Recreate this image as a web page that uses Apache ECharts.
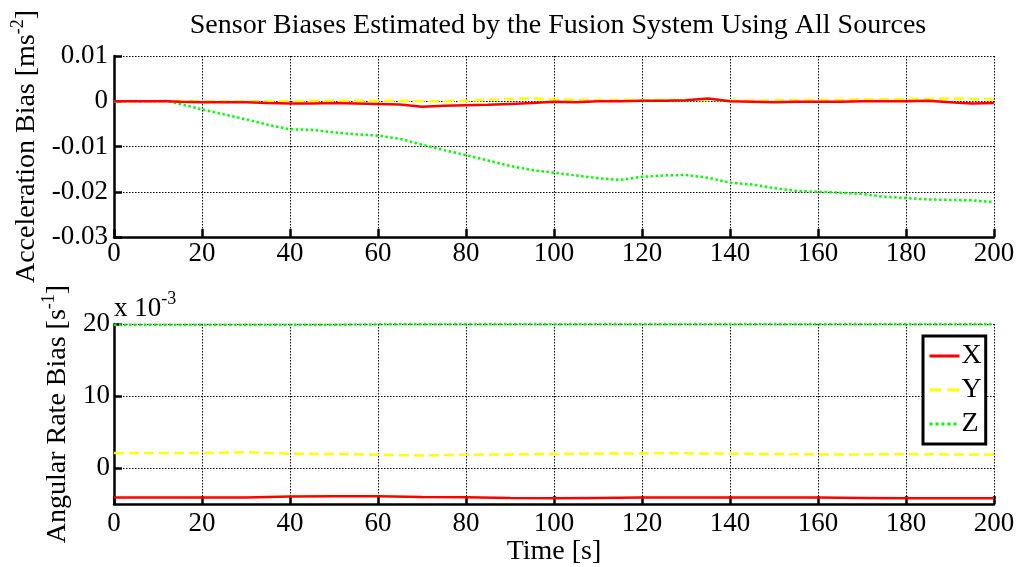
<!DOCTYPE html>
<html>
<head>
<meta charset="utf-8">
<script src="https://cdn.jsdelivr.net/npm/echarts@6/dist/echarts.min.js"></script>
<style>html,body{margin:0;padding:0;background:#fff}#c{width:1024px;height:567px}</style>
</head>
<body>
<div id="c"></div>
<script>
// ---- data ----
const accTime = [0,5,10,12,15,20,25,30,35,40,45,50,55,60,65,70,75,80,85,90,95,100,105,110,115,120,125,130,135,140,145,150,155,160,165,170,175,180,185,190,195,200];
const accX = [0,0,0,0,-0.0001,-0.0002,-0.0002,-0.0002,-0.0004,-0.0005,-0.0005,-0.0004,-0.0005,-0.0006,-0.0007,-0.0012,-0.0010,-0.0009,-0.0008,-0.0006,-0.0004,-0.0001,-0.0002,0,0,0.0001,0.0001,0.0002,0.0006,0,-0.0001,-0.0002,-0.0001,-0.0001,-0.0001,0,0,0,0.0001,-0.0002,-0.0005,-0.0004];
const accY = [0,0,0,0,0,0,0,0,0,0,0.0001,0.0001,0.0001,0.0001,0.0001,0,0,0.0001,0.0003,0.0005,0.0006,0.0004,0.0003,0.0003,0.0003,0.0003,0.0003,0.0003,0.0003,0.0002,0.0001,0.0002,0.0002,0.0003,0.0003,0.0004,0.0004,0.0005,0.0005,0.0006,0.0005,0.0004];
const accZ = [0,0,0,0.0001,-0.0006,-0.0018,-0.0029,-0.0040,-0.0052,-0.0062,-0.0063,-0.0069,-0.0073,-0.0076,-0.0083,-0.0096,-0.0108,-0.0119,-0.0131,-0.0143,-0.0152,-0.0158,-0.0164,-0.0170,-0.0174,-0.0167,-0.0164,-0.0163,-0.0169,-0.0180,-0.0184,-0.0192,-0.0198,-0.0200,-0.0202,-0.0205,-0.0211,-0.0214,-0.0217,-0.0218,-0.0219,-0.0223];

const rateTime = [0,10,20,30,40,50,60,70,80,90,100,110,120,130,140,150,160,170,180,190,200];
// angular rate bias in units of 10^-3 s^-1
const rateX = [-4.1,-4.1,-4.1,-4.1,-3.95,-3.9,-3.9,-4.0,-4.05,-4.15,-4.2,-4.15,-4.1,-4.1,-4.1,-4.1,-4.1,-4.15,-4.2,-4.2,-4.2];
const rateY = [2.1,2.1,2.1,2.2,2.0,1.95,1.85,1.75,1.85,1.9,1.95,2.0,2.05,2.05,2.0,1.95,1.9,1.9,1.95,1.9,1.9];
const rateZ = [19.9,19.9,19.9,19.9,19.9,19.9,19.95,19.95,19.95,19.95,19.95,19.95,19.95,19.95,19.95,19.95,19.95,19.95,19.95,19.95,19.95];

const seriesNames = ['X','Y','Z'];
const rateTicks = [0,10,20];

// ---- chart ----
const FONT = '"Liberation Serif", "Times New Roman", serif';
const colors = ['#ff0000','#ffff00','#00ff00'];
const lineTypes = ['solid','dashed','dotted'];
const zip = (t, v) => t.map((x, i) => [x, v[i]]);

const axisCommon = () => ({
  axisLine: {show: true, onZero: false, lineStyle: {color: '#000', width: 2.5}},
  axisTick: {show: true, inside: true, length: 8, lineStyle: {color: '#000', width: 2.5}},
  splitLine: {show: true, lineStyle: {color: '#000', width: 1, type: [1.5, 1.5]}}
});

const xAxisBase = (idx, margin) => Object.assign(axisCommon(), {
  type: 'value', gridIndex: idx, min: 0, max: 200, interval: 20,
  axisLabel: {color: '#000', fontFamily: FONT, fontSize: 27, margin: margin}
});

const chart = echarts.init(document.getElementById('c'), null, {renderer: 'canvas'});

const mkSeries = (i, xi, t, v) => ({
  name: seriesNames[i], type: 'line', xAxisIndex: xi, yAxisIndex: xi,
  data: zip(t, v), showSymbol: false, symbol: 'none',
  lineStyle: {color: colors[i], width: 2.5, type: lineTypes[i]},
  itemStyle: {color: colors[i]}, z: 3 + (2 - i)
});

const nameRich = {
  n: {fontFamily: FONT, fontSize: 28, color: '#000', verticalAlign: 'bottom'},
  sup: {fontFamily: FONT, fontSize: 18, color: '#000', verticalAlign: 'top', padding: [0, 0, 14, 0]}
};

chart.setOption({
  animation: false,
  title: {
    text: 'Sensor Biases Estimated by the Fusion System Using All Sources',
    left: 553, top: 7, textAlign: 'center',
    textStyle: {fontFamily: FONT, fontSize: 28, fontWeight: 'normal', color: '#000'}
  },
  grid: [
    {left: 114, top: 56, width: 880, height: 181},
    {left: 114, top: 324, width: 880, height: 181}
  ],
  xAxis: [
    xAxisBase(0, 3),
    Object.assign(xAxisBase(1, 6), {
      name: 'Time [s]', nameLocation: 'middle', nameGap: 32,
      nameTextStyle: {fontFamily: FONT, fontSize: 28, color: '#000'}
    })
  ],
  yAxis: [
    Object.assign(axisCommon(), {
      type: 'value', gridIndex: 0, min: -0.03, max: 0.01, interval: 0.01,
      axisLabel: {color: '#000', fontFamily: FONT, fontSize: 27, margin: 6,
        formatter: v => String(+v.toFixed(2))},
      name: '{n|Acceleration Bias [ms}{sup|-2}{n|]}', nameLocation: 'middle', nameGap: 64,
      nameTextStyle: {fontFamily: FONT, fontSize: 28, color: '#000', rich: nameRich}
    }),
    Object.assign(axisCommon(), {
      type: 'value', gridIndex: 1, min: -5, max: 20,
      axisTick: {show: true, inside: true, length: 8, customValues: rateTicks, lineStyle: {color: '#000', width: 2.5}},
      axisLabel: {color: '#000', fontFamily: FONT, fontSize: 27, margin: 4, customValues: rateTicks},
      name: '{n|Angular Rate Bias [s}{sup|-1}{n|]}', nameLocation: 'middle', nameGap: 35,
      nameTextStyle: {fontFamily: FONT, fontSize: 28, color: '#000', rich: nameRich}
    })
  ],
  legend: {
    data: seriesNames, orient: 'vertical', left: 923, top: 336,
    backgroundColor: '#fff', borderColor: '#000', borderWidth: 3, borderRadius: 0,
    padding: [6, 4, 6, 5], itemGap: 6, itemWidth: 30, itemHeight: 12,
    itemStyle: {opacity: 0},
    lineStyle: {width: 3},
    textStyle: {fontFamily: FONT, fontSize: 28, color: '#000', padding: [0, 0, 0, -3]}
  },
  graphic: [
    {type: 'text', left: 114, top: 290, style: {
      text: '{n|x 10}{sup|-3}',
      rich: {
        n: {fontFamily: FONT, fontSize: 27, fill: '#000', verticalAlign: 'bottom'},
        sup: {fontFamily: FONT, fontSize: 18, fill: '#000', verticalAlign: 'top', padding: [0, 0, 14, 0]}
      }
    }}
  ],
  series: [
    mkSeries(0, 0, accTime, accX), mkSeries(1, 0, accTime, accY), mkSeries(2, 0, accTime, accZ),
    mkSeries(0, 1, rateTime, rateX), mkSeries(1, 1, rateTime, rateY), mkSeries(2, 1, rateTime, rateZ)
  ]
});
</script>
</body>
</html>
